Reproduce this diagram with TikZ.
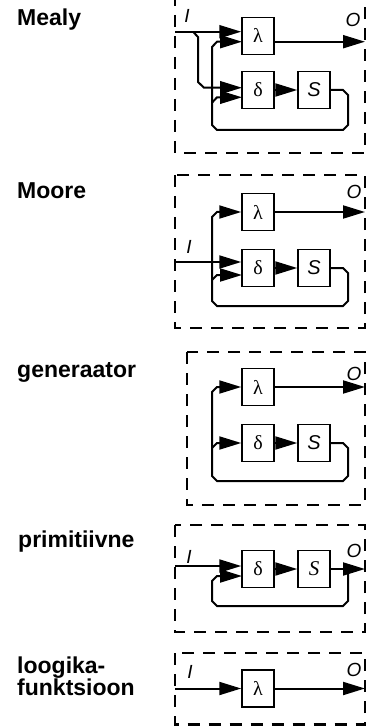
\documentclass[tikz,border=0pt]{standalone}
\usepackage{fontspec}
\setmainfont{Liberation Serif}
\setsansfont{Liberation Sans}
\usetikzlibrary{arrows.meta}
\begin{document}
\begin{tikzpicture}[x=1pt,y=-1pt,
  blk/.style={draw,line width=1.5pt,minimum width=32pt,minimum height=37pt,inner sep=0pt,font=\fontsize{20}{20}\selectfont},
  wire/.style={line width=2pt},
  arr/.style={wire,-{Triangle[length=22pt,width=13pt]}},
  frame/.style={line width=2.6pt,dash pattern=on 12pt off 9pt},
  ttl/.style={anchor=base west,inner sep=0pt,font=\fontsize{23}{23}\selectfont\sffamily\bfseries},
  io/.style={inner sep=0pt,font=\fontsize{19}{19}\selectfont\sffamily\itshape},
  sS/.style={font=\fontsize{20}{20}\selectfont\sffamily\itshape},
  sR/.style={font=\fontsize{21}{21}\selectfont\itshape}
]
\useasboundingbox (0,0) rectangle (369,727);

% titles
\node[ttl] (t1) at (17,26) {Mealy};
\node[ttl] (t2) at (17,199) {Moore};
\node[ttl] (t3) at (17,377) {generaator};
\node[ttl] (t4) at (18,547) {primitiivne};
\node[ttl] (t5a) at (17,673) {loogika-};
\node[ttl] (t5b) at (17,695) {funktsioon};

% ---------- Mealy ----------
\draw[frame] (175,-6) rectangle (365,153);
\node[blk] (L1) at (258,35.8) {λ};
\node[blk] (D1) at (258,90) {δ};
\node[blk,sS] (S1) at (314,90) {S};
\coordinate (I1) at (175,31.7);
\coordinate (O1) at (365,41.7);
\coordinate (b1) at (193,31.7);
\node[io] (il1) at (187,16) {I};
\node[io] (ol1) at (353,20) {O};
\draw[arr] (I1) -- (L1.west |- I1);
\draw[arr] (b1) -- (198,37) -- (198,82) -- (204,87.7) -- (242,87.7);
\draw[arr] (L1.east |- O1) -- (O1);
\draw[arr] (D1.east) -- (S1.west);
\draw[arr] (S1.east) -- (343,90) -- (348,95) -- (348,125) -- (343,130) -- (217,130) -- (212,125) -- (212,47) -- (217,41.7) -- (242,41.7);
\draw[arr] (212,102.7) -- (217,97.3) -- (242,97.3);

% ---------- Moore ----------
\draw[frame] (175,175) rectangle (365,328);
\node[blk] (L2) at (258,212) {λ};
\node[blk] (D2) at (258,268) {δ};
\node[blk,sS] (S2) at (314,268) {S};
\coordinate (I2) at (175,262);
\coordinate (O2) at (365,212);
\node[io] (il2) at (189,247) {I};
\node[io] (ol2) at (354,192) {O};
\draw[arr] (I2) -- (D2.west |- I2);
\draw[arr] (L2.east) -- (O2);
\draw[arr] (D2.east) -- (S2.west);
\draw[arr] (S2.east) -- (343,268) -- (348,273) -- (348,301) -- (343,306) -- (217,306) -- (212,301) -- (212,217) -- (217,212) -- (L2.west);
\draw[arr] (212,280) -- (217,275) -- (242,275);

% ---------- generaator ----------
\draw[frame] (187,352) rectangle (365,505);
\node[blk] (L3) at (258,387) {λ};
\node[blk] (D3) at (258,443) {δ};
\node[blk,sS] (S3) at (314,443) {S};
\coordinate (O3) at (365,387);
\node[io] (ol3) at (354,374) {O};
\draw[arr] (L3.east) -- (O3);
\draw[arr] (D3.east) -- (S3.west);
\draw[arr] (S3.east) -- (343,443) -- (348,448) -- (348,476) -- (343,481) -- (217,481) -- (212,476) -- (212,392) -- (217,387) -- (L3.west);
\draw[arr] (212,448) -- (217,443) -- (D3.west);

% ---------- primitiivne ----------
\draw[frame] (175,525) rectangle (365,632);
\node[blk] (D4) at (258,569) {δ};
\node[blk,sR] (S4) at (314,569) {S};
\coordinate (I4) at (175,566);
\coordinate (O4) at (365,569);
\node[io] (il4) at (189,557) {I};
\node[io] (ol4) at (354,551) {O};
\draw[arr] (I4) -- (D4.west |- I4);
\draw[arr] (D4.east) -- (S4.west);
\draw[arr] (S4.east) -- (O4);
\draw[arr] (348,569) -- (348,601) -- (343,606) -- (217,606) -- (212,601) -- (212,581) -- (217,576) -- (242,576);

% ---------- loogikafunktsioon ----------
\draw[frame] (175,653) rectangle (365,724.5);
\node[blk] (L5) at (258,688.5) {λ};
\coordinate (I5) at (175,688.5);
\coordinate (O5) at (365,688.5);
\node[io] (il5) at (190,672) {I};
\node[io] (ol5) at (354,670) {O};
\draw[arr] (I5) -- (L5.west);
\draw[arr] (L5.east) -- (O5);
\end{tikzpicture}
\end{document}
